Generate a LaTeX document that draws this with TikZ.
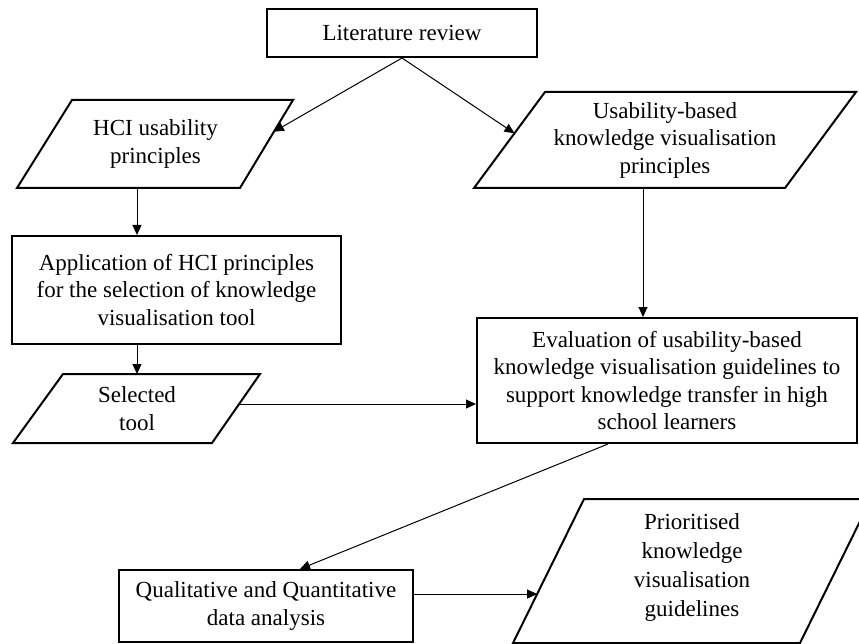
\documentclass[tikz,border=0pt]{standalone}
\usepackage{fontspec}
\setmainfont{Liberation Serif}
\usetikzlibrary{arrows.meta,calc}
\newcommand\flowfont{\fontsize{23}{27.5}\selectfont}
\begin{document}
\begin{tikzpicture}[x=1pt,y=-1pt,
  box/.style={draw,line width=2pt,inner sep=0pt,align=center,font=\flowfont},
  txt/.style={inner sep=0pt,align=center,font=\flowfont},
  outline/.style={draw,line width=2pt,line join=miter},
  flow/.style={line width=1pt,-{Triangle[length=10pt,width=9pt]}}]

\fill[white] (0,0) rectangle (859,644);
\useasboundingbox (0,0) rectangle (859,644);

% process boxes
\node[box,minimum width=270pt,minimum height=48pt] (lit) at (402,33) {Literature review};
\node[box,minimum width=329pt,minimum height=108pt] (app) at (176.5,290)
  {Application of HCI principles\\for the selection of knowledge\\visualisation tool};
\node[box,minimum width=380pt,minimum height=125pt] (eval) at (667,380.5)
  {Evaluation of usability-based\\knowledge visualisation guidelines to\\support knowledge transfer in high\\school learners};
\node[box,minimum width=294pt,minimum height=72pt] (qual) at (266,606)
  {Qualitative and Quantitative\\data analysis};

% data (parallelogram) shapes
\coordinate (hciTL) at (72,100);  \coordinate (hciTR) at (293,100);
\coordinate (hciBR) at (240,188); \coordinate (hciBL) at (17,188);
\draw[outline] (hciTL) -- (hciTR) -- (hciBR) -- (hciBL) -- cycle;
\node[txt] (hci) at (155.5,144) {HCI usability\\principles};

\coordinate (useTL) at (545,92);  \coordinate (useTR) at (856,92);
\coordinate (useBR) at (785,188); \coordinate (useBL) at (474,188);
\draw[outline] (useTL) -- (useTR) -- (useBR) -- (useBL) -- cycle;
\node[txt] (use) at (665,140) {Usability-based\\knowledge visualisation\\principles};

\coordinate (selTL) at (63,374);  \coordinate (selTR) at (260,374);
\coordinate (selBR) at (212,443); \coordinate (selBL) at (13,443);
\draw[outline] (selTL) -- (selTR) -- (selBR) -- (selBL) -- cycle;
\node[txt] (sel) at (137,408.5) {Selected\\tool};

\coordinate (priTL) at (584,499); \coordinate (priTR) at (871,499);
\coordinate (priBR) at (800,643); \coordinate (priBL) at (513,643);
\draw[outline] (priTL) -- (priTR) -- (priBR) -- (priBL) -- cycle;
\node[txt,font=\fontsize{23}{29}\selectfont] (pri) at (692,567)
  {Prioritised\\knowledge\\visualisation\\guidelines};

% connectors
\coordinate (hciIn) at ($(hciTR)!0.36!(hciBR)$);
\coordinate (useIn) at ($(useTL)!0.43!(useBL)$);
\coordinate (hciOut) at (137,188);
\coordinate (useOut) at (643,188);
\coordinate (selOut) at ($(selTR)!0.435!(selBR)$);
\coordinate (priIn) at ($(priTL)!0.66!(priBL)$);

\draw[flow] (lit.south) -- (hciIn);
\draw[flow] (lit.south) -- (useIn);
\draw[flow] (hciOut) -- (hciOut |- app.north);
\draw[flow] (useOut) -- (useOut |- eval.north);
\draw[flow] (hciOut |- app.south) -- (hciOut |- selTL);
\draw[flow] (selOut) -- (selOut -| eval.west);
\draw[flow] ([xshift=-59pt]eval.south) -- ([xshift=34pt]qual.north);
\draw[flow] (qual.east |- priIn) -- (priIn);
\end{tikzpicture}
\end{document}
